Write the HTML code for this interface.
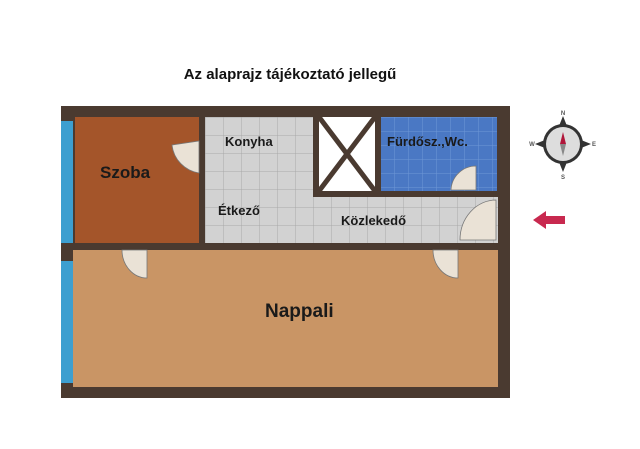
<!DOCTYPE html>
<html><head><meta charset="utf-8"><style>
body{margin:0;width:640px;height:444px;background:#fff;overflow:hidden;font-family:"Liberation Sans",sans-serif}
</style></head><body>
<svg width="640" height="444" xmlns="http://www.w3.org/2000/svg" font-family="Liberation Sans, sans-serif" font-weight="bold">
<defs>
<pattern id="g" width="18" height="18" patternUnits="userSpaceOnUse" x="205" y="117"><rect width="18" height="18" fill="#d2d2d2"/><path d="M0 0H18M0 0V18" stroke="#a9a9a9" stroke-width="1"/></pattern>
<pattern id="b" width="14" height="14" patternUnits="userSpaceOnUse" x="380" y="117"><rect width="14" height="14" fill="#4a78c4"/><path d="M0 0H14M0 0V14" stroke="#6e97d6" stroke-width="1"/></pattern>
</defs>
<text x="290" y="79" font-size="15" text-anchor="middle" fill="#111">Az alaprajz tájékoztató jellegű</text>
<rect x="61" y="106" width="449" height="292" fill="#4a3a30"/>
<rect x="75" y="117" width="124" height="126" fill="#a4552a"/>
<rect x="205" y="117" width="293" height="126" fill="url(#g)"/>
<rect x="73" y="250" width="425" height="137" fill="#c99565"/>
<rect x="313" y="117" width="185" height="80" fill="#4a3a30"/>
<rect x="319" y="117" width="56" height="74" fill="#fff"/>
<path d="M319 117L375 191M375 117L319 191" stroke="#4a3a30" stroke-width="5"/>
<rect x="381" y="117" width="116" height="74" fill="url(#b)"/>
<rect x="61" y="121" width="12" height="122" fill="#3d9fd0"/>
<rect x="61" y="261" width="12" height="122" fill="#3d9fd0"/>
<g fill="#eae2d6" stroke="#777" stroke-width="0.8">
<path d="M199 141V173A32 32 0 0 1 172 145Z" transform="translate(0,0)"/>
<path d="M122 250H147V278A25 28 0 0 1 122 250Z"/>
<path d="M433 250H458V278A25 28 0 0 1 433 250Z"/>
<path d="M476 190V166A25 25 0 0 0 451 190Z"/>
<path d="M496 200V240H460A36 40 0 0 1 496 200Z"/>
</g>
<text x="100" y="178" font-size="17" fill="#1a1a1a">Szoba</text>
<text x="225" y="146" font-size="13" fill="#1a1a1a">Konyha</text>
<text x="218" y="215" font-size="13" fill="#1a1a1a">Étkező</text>
<text x="341" y="225" font-size="13" fill="#1a1a1a">Közlekedő</text>
<text x="387" y="146" font-size="13" fill="#1a1a1a">Fürdősz.,Wc.</text>
<text x="265" y="317" font-size="19" fill="#1a1a1a">Nappali</text>
<g transform="translate(563,144)">
<circle r="20" fill="#333"/><circle r="17" fill="#ddd"/>
<path d="M0-28L4-18H-4ZM0 28L4 18H-4ZM-28 0L-18 4V-4ZM28 0L18 4V-4Z" fill="#333"/>
<path d="M0-12L3 0H-3Z" fill="#b0163a"/><path d="M0 12L3 0H-3Z" fill="#888"/>
<text y="-29" font-size="6" text-anchor="middle" fill="#555">N</text>
<text y="35" font-size="6" text-anchor="middle" fill="#555">S</text>
<text x="-31" y="2" font-size="6" text-anchor="middle" fill="#555">W</text>
<text x="31" y="2" font-size="6" text-anchor="middle" fill="#555">E</text>
</g>
<path d="M533 220L546 211V216H565V224H546V229Z" fill="#c8294f"/>
</svg>
</body></html>
